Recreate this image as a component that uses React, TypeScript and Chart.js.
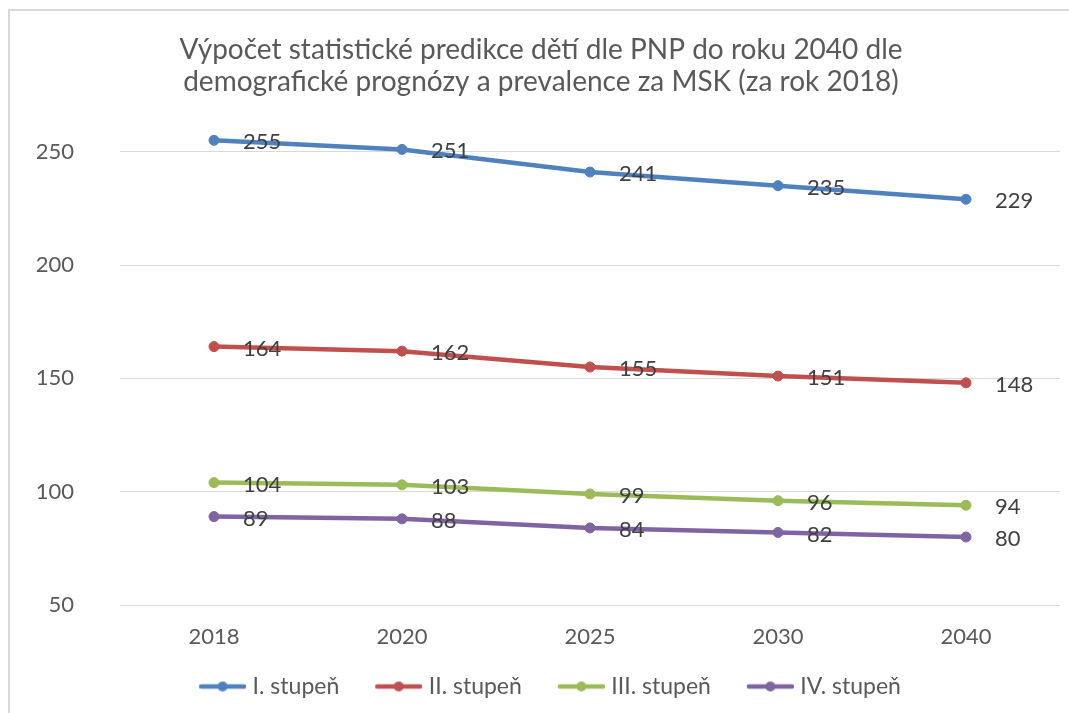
import React, { useEffect, useRef } from "react";
import { Chart, registerables } from "chart.js";

Chart.register(...registerables);

const years = ["2018", "2020", "2025", "2030", "2040"];
const stupen1 = [255, 251, 241, 235, 229];
const stupen2 = [164, 162, 155, 151, 148];
const stupen3 = [104, 103, 99, 96, 94];
const stupen4 = [89, 88, 84, 82, 80];
const seriesNames = ["I. stupeň", "II. stupeň", "III. stupeň", "IV. stupeň"];
const seriesColors = ["#4F81BD", "#C0504D", "#9BBB59", "#8064A2"];
const titleLines = [
  "Výpočet statistické predikce dětí dle PNP do roku 2040 dle",
  "demografické prognózy a prevalence za MSK (za rok 2018)",
];
const yMin = 50;
const yMax = 260;
const yStep = 50;

const FONT = "Lato";
const TEXT = "#595959";
const LABEL = "#404040";

function makeMarker(color: string): HTMLCanvasElement {
  const c = document.createElement("canvas");
  c.width = 70;
  c.height = 14;
  const ctx = c.getContext("2d")!;
  ctx.strokeStyle = color;
  ctx.lineWidth = 4.5;
  ctx.lineCap = "round";
  ctx.beginPath();
  ctx.moveTo(25, 7);
  ctx.lineTo(68, 7);
  ctx.stroke();
  ctx.fillStyle = color;
  ctx.beginPath();
  ctx.arc(46.5, 7, 5, 0, Math.PI * 2);
  ctx.fill();
  return c;
}

const dataLabels = {
  id: "dataLabels",
  afterDatasetsDraw(chart: any) {
    const ctx = chart.ctx;
    ctx.save();
    ctx.font = `22px ${FONT}`;
    ctx.fillStyle = LABEL;
    ctx.textAlign = "left";
    ctx.textBaseline = "middle";
    chart.data.datasets.forEach((ds: any, i: number) => {
      const meta = chart.getDatasetMeta(i);
      meta.data.forEach((pt: any, j: number) => {
        ctx.fillText(String(ds.data[j]), pt.x + 29, pt.y + 2);
      });
    });
    ctx.restore();
  },
};

export default function App() {
  const ref = useRef<HTMLCanvasElement | null>(null);

  useEffect(() => {
    if (!ref.current) return;
    const allSeries = [stupen1, stupen2, stupen3, stupen4];
    const markers = seriesColors.map(makeMarker);
    const chart = new Chart(ref.current, {
      type: "line",
      data: {
        labels: years,
        datasets: allSeries.map((d, i) => ({
          label: seriesNames[i],
          data: d,
          borderColor: seriesColors[i],
          backgroundColor: seriesColors[i],
          pointBackgroundColor: seriesColors[i],
          pointBorderColor: seriesColors[i],
          borderWidth: 4.5,
          pointRadius: 5,
          pointBorderWidth: 1,
          tension: 0,
          yAxisID: "y",
        })),
      },
      options: {
        responsive: false,
        animation: false,
        devicePixelRatio: 1,
        layout: { padding: { left: 0, right: 0, top: 0, bottom: 5 } },
        plugins: {
          tooltip: { enabled: false },
          title: {
            display: true,
            text: titleLines,
            color: TEXT,
            font: { family: FONT, size: 28, weight: "normal", lineHeight: "32px" } as any,
            padding: { top: 25, bottom: 31 },
          },
          legend: {
            display: true,
            position: "bottom",
            labels: {
              usePointStyle: true,
              pointStyleWidth: 60,
              padding: 18,
              color: TEXT,
              font: { family: FONT, size: 23 },
              generateLabels: () =>
                seriesNames.map((name, i) => ({
                  text: name,
                  fillStyle: seriesColors[i],
                  strokeStyle: seriesColors[i],
                  lineWidth: 0,
                  pointStyle: markers[i] as any,
                  hidden: false,
                  datasetIndex: i,
                  fontColor: TEXT,
                })),
            },
          },
        },
        scales: {
          x: {
            type: "category",
            offset: true,
            grid: { display: false, drawTicks: false },
            border: { display: false },
            ticks: { color: TEXT, font: { family: FONT, size: 22 }, padding: 19 },
            afterFit: (s: any) => {
              s.height = 52;
            },
          },
          y: {
            position: "left",
            min: yMin,
            max: yMax,
            grid: { color: "#D9D9D9", lineWidth: 1, drawTicks: false },
            border: { display: false },
            ticks: {
              stepSize: yStep,
              includeBounds: false,
              padding: 46,
              color: TEXT,
              font: { family: FONT, size: 22 },
            },
            afterFit: (s: any) => {
              s.width = 112;
            },
          },
          yR: {
            position: "right",
            grid: { display: false, drawTicks: false },
            border: { display: false },
            ticks: { display: false },
            afterFit: (s: any) => {
              s.width = 14;
            },
          },
        },
      } as any,
      plugins: [dataLabels],
    });
    return () => chart.destroy();
  }, []);

  return (
    <div
      style={{
        position: "absolute",
        left: 0,
        top: 0,
        width: 1069,
        height: 713,
        overflow: "hidden",
        background: "#fff",
      }}
    >
      <div
        style={{
          position: "absolute",
          left: 8,
          top: 9,
          width: 1100,
          height: 750,
          borderLeft: "2px solid #D9D9D9",
          borderTop: "2px solid #D9D9D9",
        }}
      />
      <canvas
        ref={ref}
        width={1066}
        height={704}
        style={{ position: "absolute", left: 8, top: 9, width: 1066, height: 704 }}
      />
    </div>
  );
}
